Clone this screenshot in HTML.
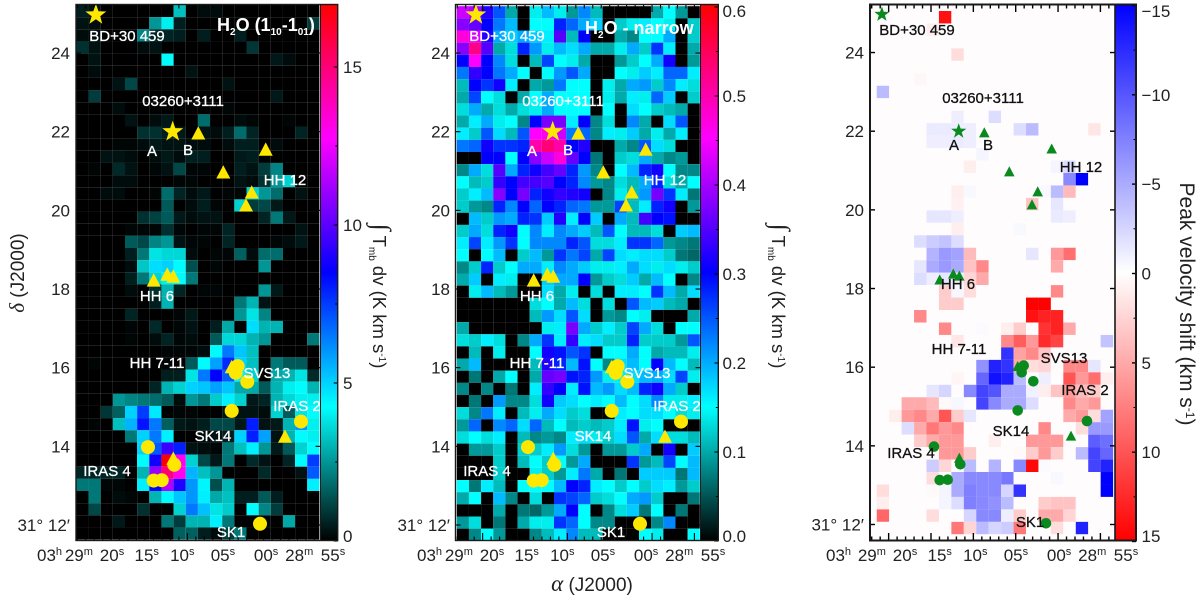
<!DOCTYPE html>
<html>
<head>
<meta charset="utf-8">
<style>
html,body{margin:0;padding:0;background:#fff;}
svg{display:block;font-family:"Liberation Sans",sans-serif;}
.ann{font-size:15px;text-anchor:middle;dominant-baseline:middle;stroke-width:.3px;}
.white{fill:#fff;stroke:#fff;stroke-width:0;}
.dark{fill:#111;stroke:#111;stroke-width:0;}
</style>
</head>
<body>
<svg id="chart" xmlns="http://www.w3.org/2000/svg" width="1200" height="600" viewBox="0 0 1200 600">
<defs>
<clipPath id="clip1"><rect x="76" y="5" width="244.5" height="535"/></clipPath>
<clipPath id="clip2"><rect x="455.5" y="5" width="245" height="535"/></clipPath>
<clipPath id="clip3"><rect x="870" y="5" width="245" height="535"/></clipPath>
<linearGradient id="cbarWarm" x1="0" y1="1" x2="0" y2="0">
<stop offset="0" stop-color="#000"/><stop offset="0.25" stop-color="#0ff"/><stop offset="0.5" stop-color="#00f"/><stop offset="0.75" stop-color="#f0f"/><stop offset="1" stop-color="#f00"/>
</linearGradient>
<linearGradient id="cbarDiv" x1="0" y1="1" x2="0" y2="0">
<stop offset="0" stop-color="#f00"/><stop offset="0.5" stop-color="#fff"/><stop offset="1" stop-color="#00f"/>
</linearGradient>
</defs>
<g id="layer-cells"></g>
<g id="layer-ticks"></g>
<g id="layer-markers"></g>

<g class="white">
<text class="ann" x="127" y="37">BD+30 459</text>
<text class="ann" x="183" y="102">03260+3111</text>
<text class="ann" x="152" y="152">A</text>
<text class="ann" x="188" y="151">B</text>
<text class="ann" x="285" y="181">HH 12</text>
<text class="ann" x="157" y="297">HH 6</text>
<text class="ann" x="157" y="364">HH 7-11</text>
<text class="ann" x="267" y="374">SVS13</text>
<text class="ann" x="297" y="407">IRAS 2</text>
<text class="ann" x="213" y="437">SK14</text>
<text class="ann" x="107" y="472">IRAS 4</text>
<text class="ann" x="231" y="533">SK1</text>
<text x="217" y="31" font-size="18" font-weight="bold">H<tspan dy="4" font-size="10">2</tspan><tspan dy="-4">O (1</tspan><tspan dy="4" font-size="10">10</tspan><tspan dy="-4">-1</tspan><tspan dy="4" font-size="10">01</tspan><tspan dy="-4">)</tspan></text>
</g>

<g class="white">
<text class="ann" x="507" y="37">BD+30 459</text>
<text class="ann" x="563" y="102">03260+3111</text>
<text class="ann" x="532" y="152">A</text>
<text class="ann" x="568" y="151">B</text>
<text class="ann" x="665" y="181">HH 12</text>
<text class="ann" x="537" y="297">HH 6</text>
<text class="ann" x="537" y="364">HH 7-11</text>
<text class="ann" x="647" y="374">SVS13</text>
<text class="ann" x="677" y="407">IRAS 2</text>
<text class="ann" x="593" y="437">SK14</text>
<text class="ann" x="487" y="472">IRAS 4</text>
<text class="ann" x="611" y="533">SK1</text>
<text x="585" y="34" font-size="18" font-weight="bold">H<tspan dy="4" font-size="10">2</tspan><tspan dy="-4">O - narrow</tspan></text>
</g>

<g class="dark">
<text class="ann" x="917" y="31">BD+30 459</text>
<text class="ann" x="983" y="99">03260+3111</text>
<text class="ann" x="954" y="146">A</text>
<text class="ann" x="988" y="146">B</text>
<text class="ann" x="1081" y="168">HH 12</text>
<text class="ann" x="958" y="285">HH 6</text>
<text class="ann" x="959" y="350">HH 7-11</text>
<text class="ann" x="1064" y="359">SVS13</text>
<text class="ann" x="1085" y="391">IRAS 2</text>
<text class="ann" x="1011" y="432">SK14</text>
<text class="ann" x="911" y="454">IRAS 4</text>
<text class="ann" x="1030" y="523">SK1</text>
</g>

<text transform="translate(24,273) rotate(-90)" text-anchor="middle" font-size="19" fill="#222"><tspan font-family="Liberation Serif" font-style="italic" font-size="21">δ</tspan> (J2000)</text>
<text x="592" y="591" text-anchor="middle" font-size="19" fill="#222"><tspan font-family="Liberation Serif" font-style="italic" font-size="23">α</tspan> (J2000)</text>
<text transform="translate(373,296) rotate(90)" text-anchor="middle" font-size="18.5" fill="#222"><tspan font-size="26" font-family="Liberation Serif">∫</tspan> T<tspan dy="4" font-size="10">mb</tspan><tspan dy="-4"> dv (K km s</tspan><tspan dy="-6" font-size="10">-1</tspan><tspan dy="6">)</tspan></text>
<text transform="translate(772,296) rotate(90)" text-anchor="middle" font-size="18.5" fill="#222"><tspan font-size="26" font-family="Liberation Serif">∫</tspan> T<tspan dy="4" font-size="10">mb</tspan><tspan dy="-4"> dv (K km s</tspan><tspan dy="-6" font-size="10">-1</tspan><tspan dy="6">)</tspan></text>
<text transform="translate(1180,304) rotate(90)" text-anchor="middle" font-size="21" fill="#222">Peak velocity shift (km s<tspan dy="-6" font-size="12">-1</tspan><tspan dy="6">)</tspan></text>

<text x="37" y="561" font-size="17" fill="#222">03<tspan dy="-6" font-size="11">h</tspan></text>
<text x="417" y="561" font-size="17" fill="#222">03<tspan dy="-6" font-size="11">h</tspan></text>
<text x="826" y="561" font-size="17" fill="#222">03<tspan dy="-6" font-size="11">h</tspan></text>
<g id="layer-frames"></g>
<g id="layer-labels"></g>
</svg>

<script>
// Broad H2O integrated intensity (K km/s), rows north to south, columns east to west
const broadIntensity = [
[.5,.3,0,0,0,0,0,0,3.2,0,.2,.2,0,0,0,0,0,0,0,0],
[.3,.2,0,0,0,0,2.5,4,.5,0,0,0,0,0,0,0,0,0,0,1],
[.2,.2,0,0,0,2.2,.6,.6,.5,0,.5,0,0,.5,0,0,0,0,0,0],
[.8,.3,0,0,0,.2,.3,0,0,0,0,0,0,0,.9,0,0,0,0,0],
[0,.3,0,0,0,0,0,4.2,0,0,0,0,0,0,0,0,.4,.2,0,0],
[0,.2,0,0,0,0,0,0,0,.3,0,0,0,0,0,0,0,0,0,0],
[0,0,0,.3,1.2,0,0,0,0,0,0,0,.3,0,0,0,0,0,0,0],
[0,1,0,0,0,0,0,0,0,0,0,0,0,0,0,0,.4,0,0,0],
[0,0,0,.2,0,0,0,0,0,0,0,0,.1,0,0,0,0,0,0,0],
[0,0,0,0,.3,0,.2,.4,0,0,1.8,0,0,.2,.1,0,0,.1,0,0],
[0,0,0,0,0,.8,.8,.5,.4,0,.3,.2,.5,1.8,.6,0,0,0,.6,0],
[0,0,0,.1,.1,.2,.4,.3,.3,.2,.2,0,.2,.5,.5,0,.2,0,0,0],
[0,0,.3,.3,.2,0,.2,.4,.2,.5,.5,0,0,.4,.5,0,0,0,0,0],
[0,.1,0,.7,.3,0,.1,.3,1.2,.1,.1,0,0,.5,.3,1,2.2,0,0,0],
[0,0,0,.2,.2,0,0,0,.1,.1,0,0,0,.3,.2,.8,2.5,3.5,0,0],
[0,0,.2,.2,0,0,.1,1.8,.6,.2,.4,0,.1,.1,3.5,2.5,1.8,0,.3,0],
[0,0,0,0,0,0,0,1.5,0,.2,.5,.1,0,3.5,1,1.2,.4,0,0,0],
[0,0,0,0,0,.8,1.1,1.5,.4,.2,.3,.3,0,0,0,.6,2,.4,0,0],
[0,0,0,0,.1,.1,.1,.8,.1,0,.1,.1,.6,0,0,0,0,0,.3,0],
[0,0,0,0,1.5,1.2,2.2,2.5,.3,.1,.1,0,.6,0,0,0,.1,.2,.4,0],
[0,0,0,0,.5,2,3.8,3.6,3.6,.2,0,.1,.1,1.6,.2,1.8,1.8,0,0,0],
[0,0,0,0,.2,3.3,4.8,5,4.3,1.3,0,.1,0,0,0,2.5,0,0,0,0],
[0,0,0,0,.5,2,3.5,4,4.2,2,0,0,0,0,0,0,0,0,0,0],
[0,0,0,0,.2,0,.8,3,.6,0,.1,.1,0,0,0,2.5,.4,0,0,0],
[0,0,0,0,0,0,.5,3,0,0,0,0,0,2,3,.3,0,0,0,0],
[0,0,0,0,.6,0,0,0,.1,.4,0,0,0,2.5,3.8,2.2,0,0,0,0],
[0,0,0,0,.1,0,.7,0,.1,.3,0,.5,2.8,0,4.8,3,3,0,0,0],
[0,0,0,0,.1,0,.2,.6,.1,.2,0,1.5,3.6,3.6,3,2.5,0,0,0,2],
[0,0,0,0,0,0,0,.1,.1,.1,.2,4.3,6.5,5.2,3.2,0,0,0,0,0],
[0,.1,0,0,0,0,0,.1,0,1.5,4.2,5.8,7.8,5,3.2,0,2,1.5,1.5,0],
[0,0,0,0,0,0,0,.5,.5,3.8,6.5,8.5,7,4.5,3.5,0,2.8,3,3.8,.7],
[0,0,0,0,0,0,.6,3,3.5,5,5.2,5.8,5.2,2.8,2.8,1.5,3,4,4.3,3],
[0,0,0,2.5,2.2,2,1.8,1.5,.2,2.5,2,3.4,4.5,3.5,.4,.6,3,3.6,4,4],
[0,0,.9,1.6,5,7.5,4.6,0,.1,.1,0,0,.3,.3,.3,.2,3.5,1.5,3.8,4.2],
[0,.1,0,3.2,5.5,8.2,6.5,1.6,.4,.3,.5,1.2,1.2,.4,8,.3,.4,3,6,4],
[0,0,0,0,2,5,6.5,4.5,0,0,.2,.3,.5,5,8,5.8,.3,3,4.3,4],
[0,0,0,0,0,5,7,9.5,8,.3,.2,.1,2,3.2,4.5,2.5,.4,1.5,3.5,4.3],
[0,0,0,0,0,4.3,8.8,17,13,3.5,1.2,.4,2,0,.7,.3,0,.6,4.3,7.5],
[.6,.6,.6,.6,0,3,11,15,13,5.5,3.2,2.5,0,0,0,.7,0,0,.3,7],
[2,2,.1,.1,0,4.5,8.5,11.5,9,6,4.4,1.3,3,0,0,0,0,0,0,4.5],
[0,2,0,.2,.1,0,3,4.2,5.2,6,4.5,2.8,3.2,.5,.5,1.5,.5,0,0,0],
[0,1.2,0,0,0,.8,0,0,3.5,6.5,5.3,3.8,3.4,0,4.3,2.2,1,0,0,0],
[0,0,0,.4,0,0,0,2,1,3,3,4.5,2,0,0,.1,0,2.8,0,0],
[0,0,0,0,0,0,0,0,1.6,1.6,.5,.2,1,2,0,0,0,0,0,0]
];

// Narrow H2O integrated intensity (in 0.01 K km/s)
const narrowIntensity = [
[42,40,32,25,10,0,14,19,14,9,22,11,0,0,0,0,10,15,9,0],
[38,36,30,23,19,0,15,15,28,24,20,18,0,12,14,16,15,14,0,12],
[47,43,32,20,18,20,18,16,35,11,30,0,0,10,8,15,15,20,0,12],
[38,52,35,10,13,28,21,14,19,17,20,10,10,14,20,12,27,16,0,10],
[30,45,30,22,13,0,11,26,15,14,10,0,0,9,12,15,20,31,0,9],
[23,33,30,23,20,15,0,15,21,25,20,0,0,15,14,18,16,24,24,16],
[11,30,27,31,16,0,10,9,23,15,15,0,14,10,20,21,12,22,16,13],
[10,26,15,13,0,10,15,20,15,15,15,0,14,10,16,14,24,18,0,12],
[13,20,10,13,10,13,14,20,15,15,15,0,15,0,17,15,12,11,10,0],
[10,16,20,14,15,8,30,37,37,16,30,8,13,0,22,10,0,17,25,0],
[16,12,25,17,11,25,45,46,42,23,24,8,16,14,18,10,14,10,16,0],
[23,24,31,27,27,28,50,53,50,30,32,0,0,10,8,25,17,13,0,0],
[0,0,30,30,15,30,38,42,47,36,30,7,0,12,13,20,10,8,9,0],
[8,20,13,35,20,28,31,34,36,28,21,8,0,15,19,28,31,15,8,8],
[15,11,12,33,30,34,34,35,30,28,22,9,8,13,11,20,28,13,10,15],
[12,16,19,38,30,37,28,31,33,32,31,0,8,14,11,21,37,27,16,7],
[12,9,8,28,22,30,24,30,28,24,23,9,9,26,11,16,28,31,0,9],
[0,19,12,21,20,28,27,18,32,16,30,18,0,20,11,34,30,29,0,0],
[12,20,13,28,31,15,22,16,22,20,18,11,25,15,11,11,13,0,18,19],
[16,26,16,21,27,15,22,22,22,28,25,13,13,16,27,27,24,9,8,7],
[15,0,15,19,0,12,19,9,27,23,26,10,26,17,16,17,17,12,7,6],
[8,12,28,12,15,20,20,16,22,20,18,14,14,16,20,17,14,17,14,12],
[10,18,0,16,14,0,0,18,20,20,30,9,12,13,18,10,19,15,0,8],
[0,14,19,11,9,0,0,17,10,14,0,13,0,16,16,15,27,19,10,17],
[0,0,0,0,0,0,13,15,10,19,13,0,13,0,25,19,18,11,10,0],
[0,0,0,0,0,0,11,21,17,25,17,0,9,8,15,14,0,0,0,10],
[10,0,0,0,0,0,0,14,16,37,20,12,16,12,26,20,13,0,15,15],
[13,12,16,13,0,8,20,27,16,33,16,17,12,12,28,12,12,12,9,25],
[0,11,0,14,0,0,15,31,29,25,27,0,15,15,20,15,10,11,11,14],
[10,19,0,0,0,0,11,32,28,19,29,15,8,17,19,15,30,19,15,11],
[0,7,0,10,15,0,10,36,37,29,28,21,14,14,17,19,20,17,26,14],
[8,0,8,0,7,0,16,33,30,16,29,19,21,17,19,28,31,20,12,0],
[0,7,0,21,8,8,13,31,18,17,15,16,15,19,15,17,22,14,14,16],
[13,8,23,16,0,11,14,20,17,12,13,0,0,16,15,17,17,15,13,14],
[9,24,0,22,24,17,24,11,15,11,12,11,12,16,29,14,15,0,0,0],
[13,15,13,16,0,11,8,9,8,16,17,14,12,17,25,10,17,13,13,11],
[0,9,9,12,0,12,12,16,21,13,9,0,9,9,12,20,0,31,0,18],
[0,0,0,12,0,11,15,12,15,9,20,0,0,0,27,9,11,26,15,19],
[0,0,0,12,0,0,14,12,9,16,23,10,0,7,0,18,18,18,7,19],
[15,7,16,11,0,15,15,15,19,30,28,16,15,12,15,12,17,16,9,12],
[10,15,0,19,8,0,13,0,27,26,24,12,13,15,20,21,12,0,0,7],
[0,0,0,10,0,7,6,9,20,30,15,0,8,13,18,7,15,0,7,0],
[9,13,0,7,0,10,14,14,27,24,15,8,8,0,0,0,8,22,0,0],
[0,8,15,9,0,0,8,11,16,22,11,11,0,0,0,15,14,0,0,15]
];

// Peak velocity shift (km/s), negative is blueshifted
const peakShift = [
[0,0,0,0,0,0,0,0,0,0,0,0,0,0,0,0,0,0,0,0],
[0,0,0,0,0,0,14,0,0,0,0,0,0,0,0,0,0,0,0,0],
[0,0,0,0,0,1,0,0,0,0,0,0,0,0,0,0,0,0,0,0],
[0,0,0,0,0,0,0,0,0,0,0,0,0,0,0,0,0,0,0,0],
[0,0,0,0,0,0,0,2,0,0,0,0,0,0,0,0,0,0,0,0],
[0,0,0,0,0,0,0,0,0,0,0,0,0,0,0,0,0,0,0,0],
[0,0,0,0,.5,0,0,0,0,0,0,0,0,0,0,0,0,0,0,0],
[0,-4,0,0,0,0,0,0,0,0,0,0,0,0,0,0,0,0,0,0],
[0,0,0,0,0,0,0,0,0,0,0,0,0,0,0,0,0,0,0,0],
[0,0,0,0,0,0,0,-1,0,0,-2,0,0,0,0,0,0,0,0,0],
[0,0,0,0,0,-1.2,-1.2,-1,-1,0,0,0,-2,-4,0,0,0,0,1.5,0],
[0,0,0,0,0,-1,-1,-1.2,-1,0,0,0,0,0,0,0,0,0,0,0],
[0,0,0,0,0,0,0,0,0,-.6,0,0,0,0,0,0,0,0,0,0],
[0,0,0,0,0,0,0,0,1,0,0,0,0,0,0,-.6,-2,0,0,0],
[0,0,0,0,0,0,0,0,0,0,0,0,0,0,0,0,-7,-15,0,0],
[0,0,0,0,0,0,0,1,-.4,0,0,0,0,0,-.4,-4,4,0,0,0],
[0,0,0,0,0,0,0,.8,0,0,0,0,0,3.5,0,-1.5,0,0,0,0],
[0,0,0,0,0,-1.5,-1.5,-1,0,0,0,0,0,0,0,-1.2,-1,0,0,0],
[0,0,0,0,0,0,0,1,0,0,0,0,-.4,0,0,0,0,0,0,0],
[0,0,0,0,-2,-3,-3.5,-2,0,0,0,0,0,0,0,0,0,0,0,0],
[0,0,0,0,0,-4.5,-6,-5.5,4,0,0,0,0,-1.5,0,6,8.5,0,0,0],
[0,0,0,0,-1.5,-5,-6,-5,3.5,7,0,0,0,0,0,5,0,0,0,0],
[0,0,0,0,-2,-1,-1.5,-1,2.5,5,0,0,0,0,0,0,0,0,0,0],
[0,0,0,0,0,0,3,-.5,2,0,0,0,0,0,0,7,0,0,0,0],
[0,0,0,0,0,0,3,3,0,0,0,0,0,15,15,0,0,0,0,0],
[0,0,0,0,7,0,0,0,0,0,0,0,0,14,13,13,0,0,0,0],
[0,0,0,0,0,0,7,0,0,-.3,0,1,3,0,12,13,5,0,0,0],
[0,0,0,0,0,0,0,1.5,0,0,0,7,9.5,6,12.5,11,0,0,0,-3.5],
[0,0,0,0,0,0,0,0,0,0,0,-12,5.5,7,3.5,0,0,0,0,0],
[0,0,0,0,0,0,0,0,0,-6.5,-13,-12,5,2,2.5,0,7,7,-1.5,0],
[0,0,0,0,0,0,0,.6,0,-9,-14,-13,-4,0,-1,0,10,6,8.5,1],
[0,0,0,0,0,-1.5,-2.5,0,-7,-11,-10,-5,-5,-.8,1,3.5,6,4,3,0],
[0,0,0,5,5,4,.3,-.5,0,-11,-7,-5,-5,-2,0,0,7,5,6,0],
[0,0,1,6,7,5,10,3,-1.5,0,0,0,0,0,0,0,5,6,2,-5.5],
[0,0,0,-2,5,8,6,7,0,0,0,0,0,0,7,0,0,2,-6,-6],
[0,0,0,0,3,5,6,6,0,0,1,0,0,6,6,6,0,0,-9.5,-8.5],
[0,0,0,0,0,0,6,6,3,0,0,0,.3,3,6,3,0,-4,-11,-9],
[0,0,0,0,0,-3,2.5,0,-4,0,-4.5,0,-7,14.5,-.3,0,0,0,-11,-13],
[0,0,0,0,0,2,0,-5,-7,-7,-7,-8,0,0,0,-.4,0,0,0,-15],
[0,2,0,0,0,.3,-.6,-5,-7.5,-7,-7,-2.5,-12,0,0,0,0,0,0,-15],
[0,1,0,0,0,0,-.6,-2,-7.5,-7,-6.5,-4,0,0,3,3.5,3.5,0,0,0],
[0,9,0,0,0,2,0,0,-2.5,-7,-7,-1,3,0,5,5,2.5,0,0,0],
[0,0,0,0,0,0,0,8,2.5,-4,-2.5,-3,8,0,0,2,0,-13,0,0],
[0,0,0,0,0,0,0,0,0,0,0,0,0,0,0,0,0,0,0,0]
];

// Source positions: RA seconds past 03h 28m, Dec arcmin past 31 deg
const starRa = [80.8, 71.73];
const starDec = [24.97, 22.0];
const triangleRa = [68.71, 60.75, 65.76, 62.4, 63.08, 73.97, 72.37, 71.66, 64.76, 58.47, 71.66];
const triangleDec = [21.97, 21.56, 20.98, 20.47, 20.14, 18.23, 18.38, 18.33, 16.03, 14.26, 13.70];
const circleRa = [64.06, 64.29, 62.92, 64.76, 56.58, 74.65, 71.54, 73.97, 73.03, 61.42];
const circleDec = [16.04, 15.87, 15.64, 14.90, 14.63, 13.98, 13.53, 13.13, 13.14, 12.03];

// Axis tick labels
const decTicks = [24, 22, 20, 18, 16, 14, 12];
const raLabelText = ['29', '20', '15', '10', '05', '00', '28', '55'];
const raLabelUnit = ['m', 's', 's', 's', 's', 's', 'm', 's'];
const raLabelSeconds = [82.8, 78.9, 74.8, 70.6, 65.8, 60.7, 56.8, 52.8];
const broadBarTicks = [0, 5, 10, 15];
const narrowBarTicks = [0, 0.1, 0.2, 0.3, 0.4, 0.5, 0.6];
const shiftBarTicks = [-15, -10, -5, 0, 5, 10, 15];

const NS = 'http://www.w3.org/2000/svg';
const layerCells = document.getElementById('layer-cells');
const layerTicks = document.getElementById('layer-ticks');
const layerMarkers = document.getElementById('layer-markers');
const layerFrames = document.getElementById('layer-frames');
const layerLabels = document.getElementById('layer-labels');

function make(tag, parent) {
  const n = document.createElementNS(NS, tag);
  parent.appendChild(n);
  return n;
}
function warmColor(f) {
  f = Math.max(0, Math.min(1, f));
  const stops = [[0,0,0],[0,255,255],[0,0,255],[255,0,255],[255,0,0]];
  const t = f * 4;
  const i = Math.min(3, Math.floor(t));
  const u = t - i;
  const c = stops[i].map((s, k) => Math.round(s + (stops[i + 1][k] - s) * u));
  return 'rgb(' + c.join(',') + ')';
}
function divergingColor(v) {
  const f = Math.min(1, Math.abs(v) / 15);
  const d = Math.round(255 * (1 - f));
  if (v === 0) return '#fffcfd';
  return v > 0 ? 'rgb(255,' + d + ',' + d + ')' : 'rgb(' + d + ',' + d + ',255)';
}

const panels = [
  { id: 1, rows: broadIntensity, color: v => warmColor(v / 17), cellX: 76.4, cellW: 12.15, cellY: 5, cellH: 12.15,
    left: 76, right: 320.5, barRight: 337.7, top: 4.5, bottom: 540.5, ra15: 145, dec12: 525, labelNudge: 0,
    grad: 'cbarWarm', marker: '#ffe800', star: 11, tri: 7, dot: 7, decLabelX: 70, frameWidth: 1.4, tickWidth: 1.1,
    barTicks: broadBarTicks, barY: v => 541 - v * 31.6, barFmt: v => String(v), barMinor: [2.5, 7.5, 12.5], barLabelX: 343 },
  { id: 2, rows: narrowIntensity, color: v => warmColor(v / 60), cellX: 456.8, cellW: 12.15, cellY: 6.2, cellH: 12.15,
    left: 455.5, right: 700.5, barRight: 718.3, top: 4.5, bottom: 540.5, ra15: 525, dec12: 525, labelNudge: 380,
    grad: 'cbarWarm', marker: '#ffe800', star: 11, tri: 7, dot: 7, decLabelX: 450, frameWidth: 1.4, tickWidth: 1.1,
    barTicks: narrowBarTicks, barY: v => 541 - v * 890, barFmt: v => v.toFixed(1), barMinor: [0.05, 0.15, 0.25, 0.35, 0.45, 0.55], barLabelX: 722.5 },
  { id: 3, rows: peakShift, color: divergingColor, cellX: 864.3, cellW: 12.44, cellY: -1.46, cellH: 12.46,
    left: 870, right: 1115, barRight: 1136, top: 4.5, bottom: 540.5, ra15: 931, dec12: 524.5, labelNudge: 793,
    grad: 'cbarDiv', marker: '#0a8a1e', star: 8, tri: 5.3, dot: 5.3, decLabelX: 864, frameWidth: 2, tickWidth: 1.4,
    barTicks: shiftBarTicks, barY: v => 273.5 + v * 17.87, barFmt: v => (v < 0 ? '\u2212' + (-v) : String(v)), barMinor: [-12.5, -7.5, -2.5, 2.5, 7.5, 12.5], barLabelX: 1141.5 }
];

panels.forEach(p => {
  const raX = sec => p.ra15 + (75 - sec) * 8.47;
  const decY = dec => p.dec12 - (dec - 12) * 39.33;
  const colX = c => p.cellX + c * p.cellW;
  const rowY = r => p.cellY + r * p.cellH;

  // background and cells
  const g = make('g', layerCells);
  g.setAttribute('clip-path', 'url(#clip' + p.id + ')');
  
  
  const bg = make('rect', g);
  bg.setAttribute('x', p.left);
  bg.setAttribute('y', p.top);
  bg.setAttribute('width', p.right - p.left);
  bg.setAttribute('height', p.bottom - p.top);
  bg.setAttribute('fill', p.id === 3 ? '#fffcfd' : '#fff');
  
  
  p.rows.forEach((row, r) => row.forEach((v, c) => {
    const cell = make('rect', g);
    cell.setAttribute('x', colX(c).toFixed(2));
    cell.setAttribute('y', rowY(r).toFixed(2));
    cell.setAttribute('width', p.cellW);
    cell.setAttribute('height', p.cellH);
    cell.setAttribute('fill', p.color(v));
    
    
  }));

  // RA ticks, top and bottom
  for (let sec = 84; sec >= 54; sec--) {
    const x = raX(sec);
    if (x <= p.left + 1 || x >= p.right - 1) continue;
    const len = sec % 5 === 0 ? 7.5 : 4;
    [[p.top, p.top + len], [p.bottom, p.bottom - len]].forEach(e => {
      const t = make('line', layerTicks);
      t.setAttribute('x1', x.toFixed(2));
      t.setAttribute('x2', x.toFixed(2));
      t.setAttribute('y1', e[0]);
      t.setAttribute('y2', e[1]);
      t.setAttribute('stroke', '#000');
      t.setAttribute('stroke-width', p.tickWidth);
      
      
    });
  }
  // Dec ticks and labels
  decTicks.forEach(d => {
    const y = decY(d);
    [[p.left, p.left + 5], [p.right, p.right - 5]].forEach(e => {
      const t = make('line', layerTicks);
      t.setAttribute('x1', e[0]);
      t.setAttribute('x2', e[1]);
      t.setAttribute('y1', y.toFixed(2));
      t.setAttribute('y2', y.toFixed(2));
      t.setAttribute('stroke', '#000');
      t.setAttribute('stroke-width', p.tickWidth);
      
      
    });
    const lab = make('text', layerLabels);
    lab.setAttribute('x', p.decLabelX);
    lab.setAttribute('y', (y + 6).toFixed(1));
    lab.setAttribute('text-anchor', 'end');
    lab.setAttribute('font-size', '17');
    lab.setAttribute('fill', '#222');
    lab.textContent = d === 12 ? '31\u00b0 12\u2032' : String(d);
    
    
  });
  // RA labels
  raLabelText.forEach((txt, i) => {
    const lab = make('text', layerLabels);
    lab.setAttribute('x', (145 + (75 - raLabelSeconds[i]) * 8.47 + p.labelNudge).toFixed(1));
    lab.setAttribute('y', '561');
    lab.setAttribute('text-anchor', 'middle');
    lab.setAttribute('font-size', '17');
    lab.setAttribute('fill', '#222');
    lab.textContent = txt;
    
    
    const sup = make('tspan', lab);
    sup.setAttribute('dy', '-6');
    sup.setAttribute('font-size', '11');
    sup.textContent = raLabelUnit[i];
  });

  // markers
  triangleRa.forEach((ra, i) => {
    const x = raX(ra), y = decY(triangleDec[i]), s = p.tri;
    const m = make('polygon', layerMarkers);
    m.setAttribute('points', [[x, y - s * 0.95], [x - s, y + s * 0.95], [x + s, y + s * 0.95]].map(q => q[0].toFixed(1) + ',' + q[1].toFixed(1)).join(' '));
    m.setAttribute('fill', p.marker);
    
    
  });
  circleRa.forEach((ra, i) => {
    const m = make('circle', layerMarkers);
    m.setAttribute('cx', raX(ra).toFixed(1));
    m.setAttribute('cy', decY(circleDec[i]).toFixed(1));
    m.setAttribute('r', p.dot);
    m.setAttribute('fill', p.marker);
    
    
  });
  starRa.forEach((ra, i) => {
    const x = raX(ra), y = decY(starDec[i]), R = p.star;
    const pts = [];
    for (let k = 0; k < 10; k++) {
      const rad = k % 2 === 0 ? R : R * 0.4;
      const a = -Math.PI / 2 + k * Math.PI / 5;
      pts.push((x + rad * Math.cos(a)).toFixed(1) + ',' + (y + rad * Math.sin(a)).toFixed(1));
    }
    const m = make('polygon', layerMarkers);
    m.setAttribute('points', pts.join(' '));
    m.setAttribute('fill', p.marker);
    
    
  });

  // colorbar
  const bar = make('rect', layerFrames);
  bar.setAttribute('x', p.right);
  bar.setAttribute('y', p.top);
  bar.setAttribute('width', p.barRight - p.right);
  bar.setAttribute('height', p.bottom - p.top);
  bar.setAttribute('fill', 'url(#' + p.grad + ')');
  
  
  p.barTicks.forEach(v => {
    const y = p.barY(v);
    const t = make('line', layerFrames);
    t.setAttribute('x1', p.barRight - 4);
    t.setAttribute('x2', p.barRight);
    t.setAttribute('y1', y.toFixed(1));
    t.setAttribute('y2', y.toFixed(1));
    t.setAttribute('stroke', '#000');
    t.setAttribute('stroke-width', p.tickWidth);
    
    
    const lab = make('text', layerLabels);
    lab.setAttribute('x', p.barLabelX);
    lab.setAttribute('y', (Math.max(11, Math.min(536, y)) + 6).toFixed(1));
    lab.setAttribute('font-size', '17');
    lab.setAttribute('fill', '#222');
    lab.textContent = p.barFmt(v);
    
    
  });
  p.barMinor.forEach(v => {
    const y = p.barY(v);
    const t = make('line', layerFrames);
    t.setAttribute('x1', p.barRight - 2.5);
    t.setAttribute('x2', p.barRight);
    t.setAttribute('y1', y.toFixed(1));
    t.setAttribute('y2', y.toFixed(1));
    t.setAttribute('stroke', '#000');
    t.setAttribute('stroke-width', '1');
    
    
  });
  // frames
  const frame = make('rect', layerFrames);
  frame.setAttribute('x', p.left);
  frame.setAttribute('y', p.top);
  frame.setAttribute('width', p.barRight - p.left);
  frame.setAttribute('height', p.bottom - p.top);
  frame.setAttribute('fill', 'none');
  frame.setAttribute('stroke', '#1a1a1a');
  frame.setAttribute('stroke-width', p.frameWidth);
  
  
  const divider = make('line', layerFrames);
  divider.setAttribute('x1', p.right);
  divider.setAttribute('x2', p.right);
  divider.setAttribute('y1', p.top);
  divider.setAttribute('y2', p.bottom);
  divider.setAttribute('stroke', '#1a1a1a');
  divider.setAttribute('stroke-width', p.frameWidth - 0.4);
  
  
});
</script>
</body>
</html>
